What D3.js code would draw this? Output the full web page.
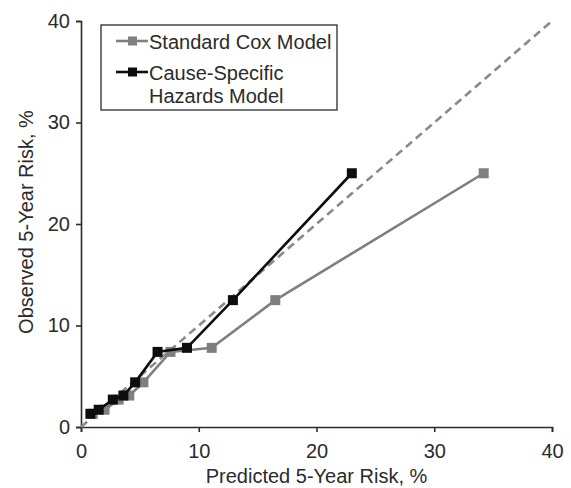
<!DOCTYPE html>
<html>
<head>
<meta charset="utf-8">
<title>Calibration plot</title>
<script src="https://cdn.jsdelivr.net/npm/d3@7"></script>
<style>
  body { margin: 0; background: #fff; }
  svg text { font-family: "Liberation Sans", Arial, sans-serif; fill: #2b2b2b; }
  .axis path, .axis line { stroke: #2b2b2b; stroke-width: 1.6; }
  .axis text { font-size: 20px; }
</style>
</head>
<body>
<svg width="571" height="488"></svg>
<script>
// ----- data (percent) -----
var observedRisk  = [1.3, 1.7, 2.7, 3.1, 4.4, 7.4, 7.8, 12.5, 25.0];
var coxPredicted  = [1.0, 2.0, 3.2, 4.1, 5.3, 7.6, 11.1, 16.5, 34.2];
var cshPredicted  = [0.8, 1.5, 2.7, 3.6, 4.6, 6.5, 9.0, 12.9, 23.0];
var tickValues    = [0, 10, 20, 30, 40];
var seriesNames   = ["Standard Cox Model", "Cause-Specific Hazards Model"];

var svg = d3.select("svg");
var margin = {left: 81, top: 21, right: 19, bottom: 61};
var w = 571 - margin.left - margin.right,
    h = 488 - margin.top - margin.bottom;

var x = d3.scaleLinear().domain([0, 40]).range([0, w]);
var y = d3.scaleLinear().domain([0, 40]).range([h, 0]);

var g = svg.append("g")
    .attr("transform", "translate(" + margin.left + "," + margin.top + ")");

// axes
g.append("g")
    .attr("class", "axis")
    .attr("transform", "translate(0," + h + ")")
    .call(d3.axisBottom(x).tickValues(tickValues).tickSize(5).tickSizeOuter(5).tickPadding(12));

g.append("g")
    .attr("class", "axis")
    .call(d3.axisLeft(y).tickValues(tickValues).tickSize(5).tickSizeOuter(5).tickPadding(6));

g.selectAll(".axis .domain").attr("fill", "none");

// diagonal reference line
g.append("line")
    .attr("x1", x(0)).attr("y1", y(0))
    .attr("x2", x(40)).attr("y2", y(40))
    .attr("stroke", "#8a8a8a")
    .attr("stroke-width", 2.6)
    .attr("stroke-dasharray", "8,5");

var series = [
  {name: seriesNames[0], color: "#7f7f7f", pts: coxPredicted.map(function(p, i) { return [p, observedRisk[i]]; })},
  {name: seriesNames[1], color: "#0d0d0d", pts: cshPredicted.map(function(p, i) { return [p, observedRisk[i]]; })}
];

var line = d3.line()
    .x(function(d) { return x(d[0]); })
    .y(function(d) { return y(d[1]); });

var s = g.selectAll(".series")
    .data(series)
  .enter().append("g")
    .attr("class", "series");

s.append("path")
    .attr("d", function(d) { return line(d.pts); })
    .attr("fill", "none")
    .attr("stroke", function(d) { return d.color; })
    .attr("stroke-width", 2.6);

s.each(function(d) {
  d3.select(this).selectAll("rect")
      .data(d.pts)
    .enter().append("rect")
      .attr("x", function(p) { return x(p[0]) - 5; })
      .attr("y", function(p) { return y(p[1]) - 5; })
      .attr("width", 10)
      .attr("height", 10)
      .attr("fill", d.color);
});

// axis titles
svg.append("text")
    .attr("x", margin.left + w / 2)
    .attr("y", 483)
    .attr("text-anchor", "middle")
    .style("font-size", "20px")
    .text("Predicted 5-Year Risk, %");

svg.append("text")
    .attr("transform", "translate(33,222) rotate(-90)")
    .attr("text-anchor", "middle")
    .style("font-size", "20px")
    .text("Observed 5-Year Risk, %");

// legend
var legend = svg.append("g").attr("transform", "translate(101,25)");
legend.append("rect")
    .attr("width", 236).attr("height", 85)
    .attr("fill", "#fff").attr("stroke", "#2b2b2b").attr("stroke-width", 1.3);

var rowsY = [16, 47];
series.forEach(function(d, i) {
  var r = legend.append("g").attr("transform", "translate(15," + rowsY[i] + ")");
  r.append("line").attr("x1", 0).attr("x2", 32)
      .attr("stroke", d.color).attr("stroke-width", 2.6);
  r.append("rect").attr("x", 12).attr("y", -4.5).attr("width", 9).attr("height", 9)
      .attr("fill", d.color);
  var t = r.append("text").attr("x", 33).attr("y", 8).style("font-size", "20px");
  if (i === 0) {
    t.text(d.name);
  } else {
    t.append("tspan").attr("x", 33).text("Cause-Specific");
    t.append("tspan").attr("x", 33).attr("dy", 23).text("Hazards Model");
  }
});
</script>
</body>
</html>
